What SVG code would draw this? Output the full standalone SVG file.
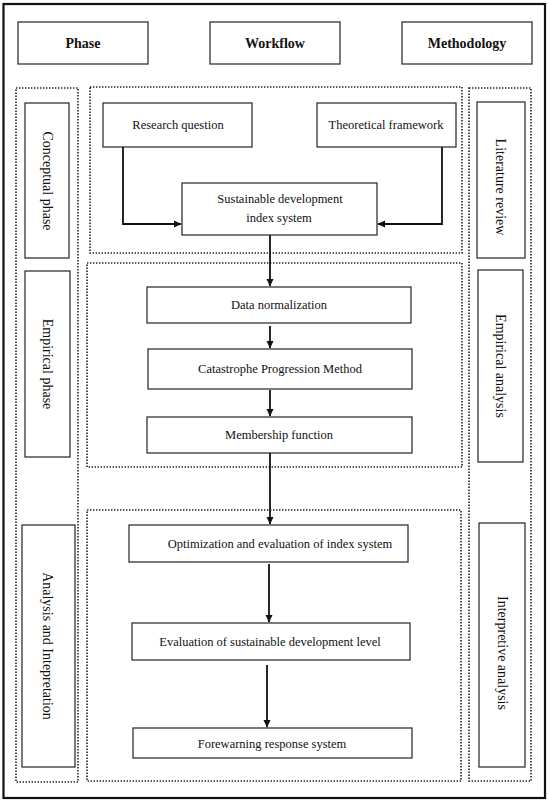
<svg xmlns="http://www.w3.org/2000/svg" width="550" height="805" viewBox="0 0 550 805">
<style>
.bg{fill:#fff}
.outer{fill:none;stroke:#111;stroke-width:2.2}
.box{fill:#fff;stroke:#333;stroke-width:1.3}
.dot{fill:none;stroke:#222;stroke-width:1.6;stroke-dasharray:1.4 1.6}
.hdr{font-family:"Liberation Serif","Times New Roman",serif;font-weight:bold;font-size:14px;fill:#111;text-anchor:middle}
.t{font-family:"Liberation Serif","Times New Roman",serif;font-size:12.5px;fill:#111;text-anchor:middle}
.v{font-family:"Liberation Serif","Times New Roman",serif;font-size:14px;fill:#111;text-anchor:middle}
.c{fill:none;stroke:#111;stroke-width:1.8}
</style>
<defs>
<marker id="ah" markerWidth="8" markerHeight="8" refX="7" refY="4" orient="auto" markerUnits="userSpaceOnUse">
<path d="M0,0.5 L7.5,4 L0,7.5 Z" fill="#111"/>
</marker>
</defs>
<rect class="bg" x="0" y="0" width="550" height="805"/>
<rect class="outer" x="3.5" y="4" width="541.5" height="794"/>

<g id="headers">
<g id="h-phase"><rect class="box" x="18" y="22" width="130" height="42"/><text class="hdr" x="83" y="48">Phase</text></g>
<g id="h-workflow"><rect class="box" x="210" y="22" width="130" height="42"/><text class="hdr" x="275" y="48">Workflow</text></g>
<g id="h-method"><rect class="box" x="402" y="22" width="130" height="42"/><text class="hdr" x="467" y="48">Methodology</text></g>
</g>

<g id="containers">
<rect class="dot" x="16" y="88" width="62" height="694"/>
<rect class="dot" x="90" y="87" width="372" height="166"/>
<rect class="dot" x="87" y="263" width="375" height="204"/>
<rect class="dot" x="87" y="510" width="374" height="271"/>
<rect class="dot" x="469" y="88" width="62" height="693"/>
</g>

<g id="phase-conceptual"><rect class="box" x="25" y="103" width="44" height="155"/><text class="v" transform="translate(43,181) rotate(90)">Conceptual phase</text></g>
<g id="phase-empirical"><rect class="box" x="25" y="271" width="45" height="186"/><text class="v" transform="translate(43,364) rotate(90)">Empirical phase</text></g>
<g id="phase-analysis"><rect class="box" x="22" y="525" width="53" height="242"/><text class="v" transform="translate(43,646) rotate(90)">Analysis and Intepretation</text></g>

<g id="m-literature"><rect class="box" x="477" y="102" width="48" height="156"/><text class="v" transform="translate(496,187) rotate(90)">Literature review</text></g>
<g id="m-empirical"><rect class="box" x="478" y="270" width="45" height="192"/><text class="v" transform="translate(496,366) rotate(90)">Empirical analysis</text></g>
<g id="m-interpretive"><rect class="box" x="479" y="523" width="46" height="244"/><text class="v" transform="translate(498,653) rotate(90)">Interpretive analysis</text></g>

<g id="n-research"><rect class="box" x="103" y="103" width="149" height="44"/><text class="t" x="178" y="129">Research question</text></g>
<g id="n-theory"><rect class="box" x="317" y="103" width="139" height="44"/><text class="t" x="386" y="129">Theoretical framework</text></g>
<g id="n-sdis"><rect class="box" x="182" y="183" width="195" height="52"/><text class="t" x="280" y="203">Sustainable development</text><text class="t" x="279" y="222">index system</text></g>
<g id="n-datanorm"><rect class="box" x="147" y="287" width="264" height="36"/><text class="t" x="279" y="309">Data normalization</text></g>
<g id="n-cpm"><rect class="box" x="148" y="349" width="264" height="40"/><text class="t" x="280" y="373">Catastrophe Progression Method</text></g>
<g id="n-member"><rect class="box" x="147" y="417" width="265" height="36"/><text class="t" x="279" y="439">Membership function</text></g>
<g id="n-optim"><rect class="box" x="129" y="525" width="279" height="37"/><text class="t" x="280" y="548">Optimization and evaluation of index system</text></g>
<g id="n-eval"><rect class="box" x="132" y="623" width="278" height="37"/><text class="t" x="270" y="646">Evaluation of sustainable development level</text></g>
<g id="n-forewarn"><rect class="box" x="133" y="728" width="279" height="30"/><text class="t" x="272" y="748">Forewarning response system</text></g>

<g id="connectors">
<path class="c" d="M123,147 V224 H181" marker-end="url(#ah)"/>
<path class="c" d="M442,147 V224 H378" marker-end="url(#ah)"/>
<path class="c" d="M270,235 V286" marker-end="url(#ah)"/>
<path class="c" d="M270,326 V348" marker-end="url(#ah)"/>
<path class="c" d="M270,390 V416" marker-end="url(#ah)"/>
<path class="c" d="M270,453 V524" marker-end="url(#ah)"/>
<path class="c" d="M269,564 V622" marker-end="url(#ah)"/>
<path class="c" d="M267,665 V727" marker-end="url(#ah)"/>
</g>
</svg>
